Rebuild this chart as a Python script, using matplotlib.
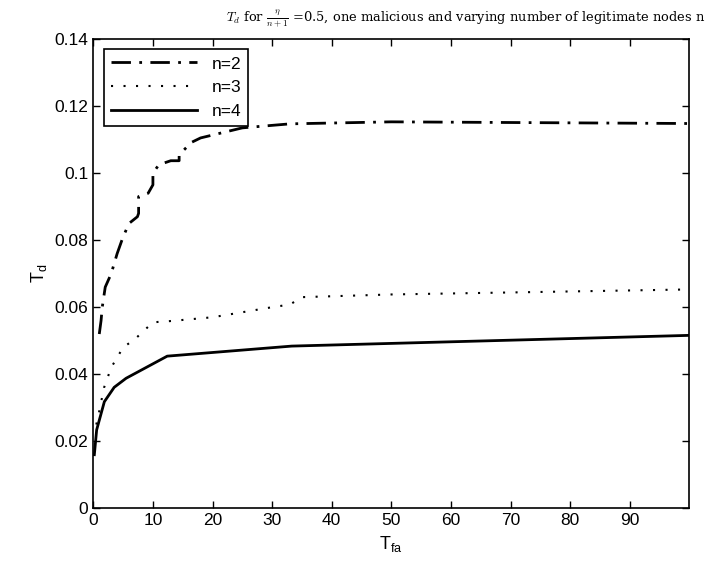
import matplotlib
matplotlib.use("Agg")
import matplotlib.pyplot as plt

plt.rcParams['font.family'] = ['Liberation Sans', 'DejaVu Sans']
plt.rcParams['mathtext.fontset'] = 'cm'

# T_fa values and detection thresholds
n2_x = [1.0, 1.3, 1.5, 2.0, 3.0, 4.0, 5.0, 6.0, 7.4, 7.6, 7.6, 9.2, 10.0, 10.0, 11.0,
        13.0, 14.4, 14.4, 16.5, 18.0, 25.0, 33.0, 50.0, 100.0]
n2_y = [0.052, 0.056, 0.060, 0.066, 0.070, 0.076, 0.081, 0.085, 0.087, 0.088, 0.093,
        0.094, 0.0965, 0.100, 0.1025, 0.1037, 0.1037, 0.1055, 0.1092, 0.1105, 0.1135,
        0.1147, 0.1153, 0.1148]

n3_x = [0.5, 1.0, 1.8, 3.0, 5.0, 7.0, 10.0, 12.5, 20.0, 30.0, 33.0, 35.0, 50.0, 100.0]
n3_y = [0.025, 0.029, 0.036, 0.042, 0.048, 0.0505, 0.0555, 0.0558, 0.057, 0.060, 0.0608,
        0.063, 0.0638, 0.0653]

n4_x = [0.17, 0.56, 1.85, 3.5, 5.5, 12.4, 33.3, 100.0]
n4_y = [0.016, 0.0234, 0.0318, 0.0361, 0.0388, 0.0454, 0.0484, 0.0516]

xticks = [0, 10, 20, 30, 40, 50, 60, 70, 80, 90]
yticks = [0, 0.02, 0.04, 0.06, 0.08, 0.1, 0.12, 0.14]
ytick_labels = ['0', '0.02', '0.04', '0.06', '0.08', '0.1', '0.12', '0.14']

fig = plt.figure(figsize=(7.08, 5.70), dpi=100)
ax = fig.add_axes([0.1318, 0.1082, 0.8418, 0.8233])

ax.plot(n2_x, n2_y, color='black', lw=2.0, linestyle=(0, (7, 3, 1, 3)), label='n=2')
ax.plot(n3_x, n3_y, color='black', lw=1.5, linestyle=(0, (1, 5)), label='n=3')
ax.plot(n4_x, n4_y, color='black', lw=2.0, linestyle='-', label='n=4')

ax.set_xlim(0, 100)
ax.set_ylim(0, 0.14)
ax.set_xticks(xticks)
ax.set_yticks(yticks)
ax.set_yticklabels(ytick_labels)
ax.tick_params(direction='in', top=True, right=True, labelsize=12.5, length=5, width=1)
for s in ax.spines.values():
    s.set_linewidth(1.2)

ax.set_xlabel(r'$\mathregular{T_{fa}}$', fontsize=13)
ax.set_ylabel(r'$\mathregular{T_d}$', fontsize=13)

leg = ax.legend(loc='upper left', fontsize=12.5, fancybox=False, edgecolor='black',
                framealpha=1, handlelength=5.0, borderaxespad=0.6)
leg.get_frame().set_linewidth(1.2)

fig.text(0.997, 0.966, r'$T_d$ for $\frac{\eta}{n+1}$ =0.5, one malicious and varying number of legitimate nodes n',
         family='serif', fontsize=9.4, ha='right', va='center')

fig.savefig('out.png', dpi=100)
